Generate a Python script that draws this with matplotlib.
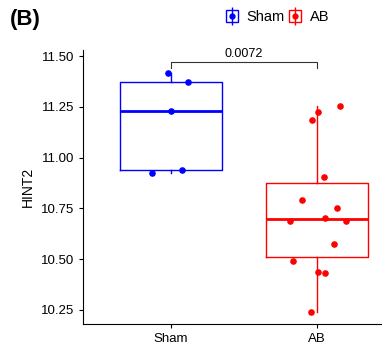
import numpy as np
import matplotlib.pyplot as plt
from matplotlib.lines import Line2D
from matplotlib.legend_handler import HandlerTuple

plt.rcParams['font.family'] = ['Liberation Sans', 'DejaVu Sans']

groups = ['Sham', 'AB']
colors = ['#0000FF', '#FF0000']

sham = [11.416, 11.372, 11.229, 10.924, 10.939]
sham_jit = [-0.02, 0.12, 0.0, -0.13, 0.08]

ab = [11.255, 11.224, 11.184, 10.905, 10.791, 10.754, 10.704, 10.688,
      10.688, 10.573, 10.493, 10.436, 10.431, 10.240]
ab_jit = [0.16, 0.01, -0.03, 0.05, -0.10, 0.14, 0.06, -0.18, 0.20,
          0.12, -0.16, 0.01, 0.06, -0.04]

pval = '0.0072'
ylabel = 'HINT2'

fig = plt.figure(figsize=(3.82, 3.54), dpi=100)
ax = fig.add_axes([0.2173, 0.0847, 0.8408, 0.7743])

data = [sham, ab]
jits = [sham_jit, ab_jit]
for i, (vals, jit, c) in enumerate(zip(data, jits, colors)):
    pos = i + 1
    ax.boxplot([vals], positions=[pos], widths=0.7, showfliers=False,
               boxprops=dict(color=c, lw=1.0),
               whiskerprops=dict(color=c, lw=1.0),
               capprops=dict(color=c, lw=0),
               medianprops=dict(color=c, lw=2.0))
    ax.scatter(pos + np.array(jit), vals, s=14, color=c, zorder=3)

# significance bracket
ytop = 11.5 - 6 / 203.2
ybot = ytop - 6 / 203.2
ax.plot([1, 1, 2, 2], [ybot, ytop, ytop, ybot], color='#333333', lw=0.8,
        clip_on=False)
ax.text(1.5, ytop + 0.012, pval, ha='center', va='bottom', fontsize=9)

ax.set_xlim(0.4, 2.6)
ax.set_ylim(10.181, 11.53)
ax.set_xticks([1, 2])
ax.set_xticklabels(groups)
ax.set_yticks([10.25, 10.5, 10.75, 11.0, 11.25, 11.5])
ax.set_yticklabels(['10.25', '10.50', '10.75', '11.00', '11.25', '11.50'])
ax.set_ylabel(ylabel, fontsize=10)
ax.tick_params(labelsize=9.5, length=3, width=0.8, colors='#000000')
ax.spines['top'].set_visible(False)
ax.spines['right'].set_visible(False)
for s in ['left', 'bottom']:
    ax.spines[s].set_linewidth(0.8)

handles = []
for c in colors:
    box = Line2D([], [], marker='s', mfc='none', mec=c, ms=9, mew=1.0, ls='none')
    vl = Line2D([], [], marker='|', color=c, ms=13, mew=1.0, ls='none')
    dot = Line2D([], [], marker='o', color=c, ms=3.5, ls='none')
    handles.append((box, vl, dot))
fig.legend(handles, groups, handler_map={tuple: HandlerTuple(ndivide=1)},
           loc='center', bbox_to_anchor=(0.725, 0.952), ncol=2, frameon=False,
           fontsize=10.5, handlelength=1.0, handletextpad=0.5, columnspacing=0.2)

fig.text(0.025, 0.93, '(B)', fontsize=16, fontweight='bold')

fig.savefig('out.png', dpi=100)
